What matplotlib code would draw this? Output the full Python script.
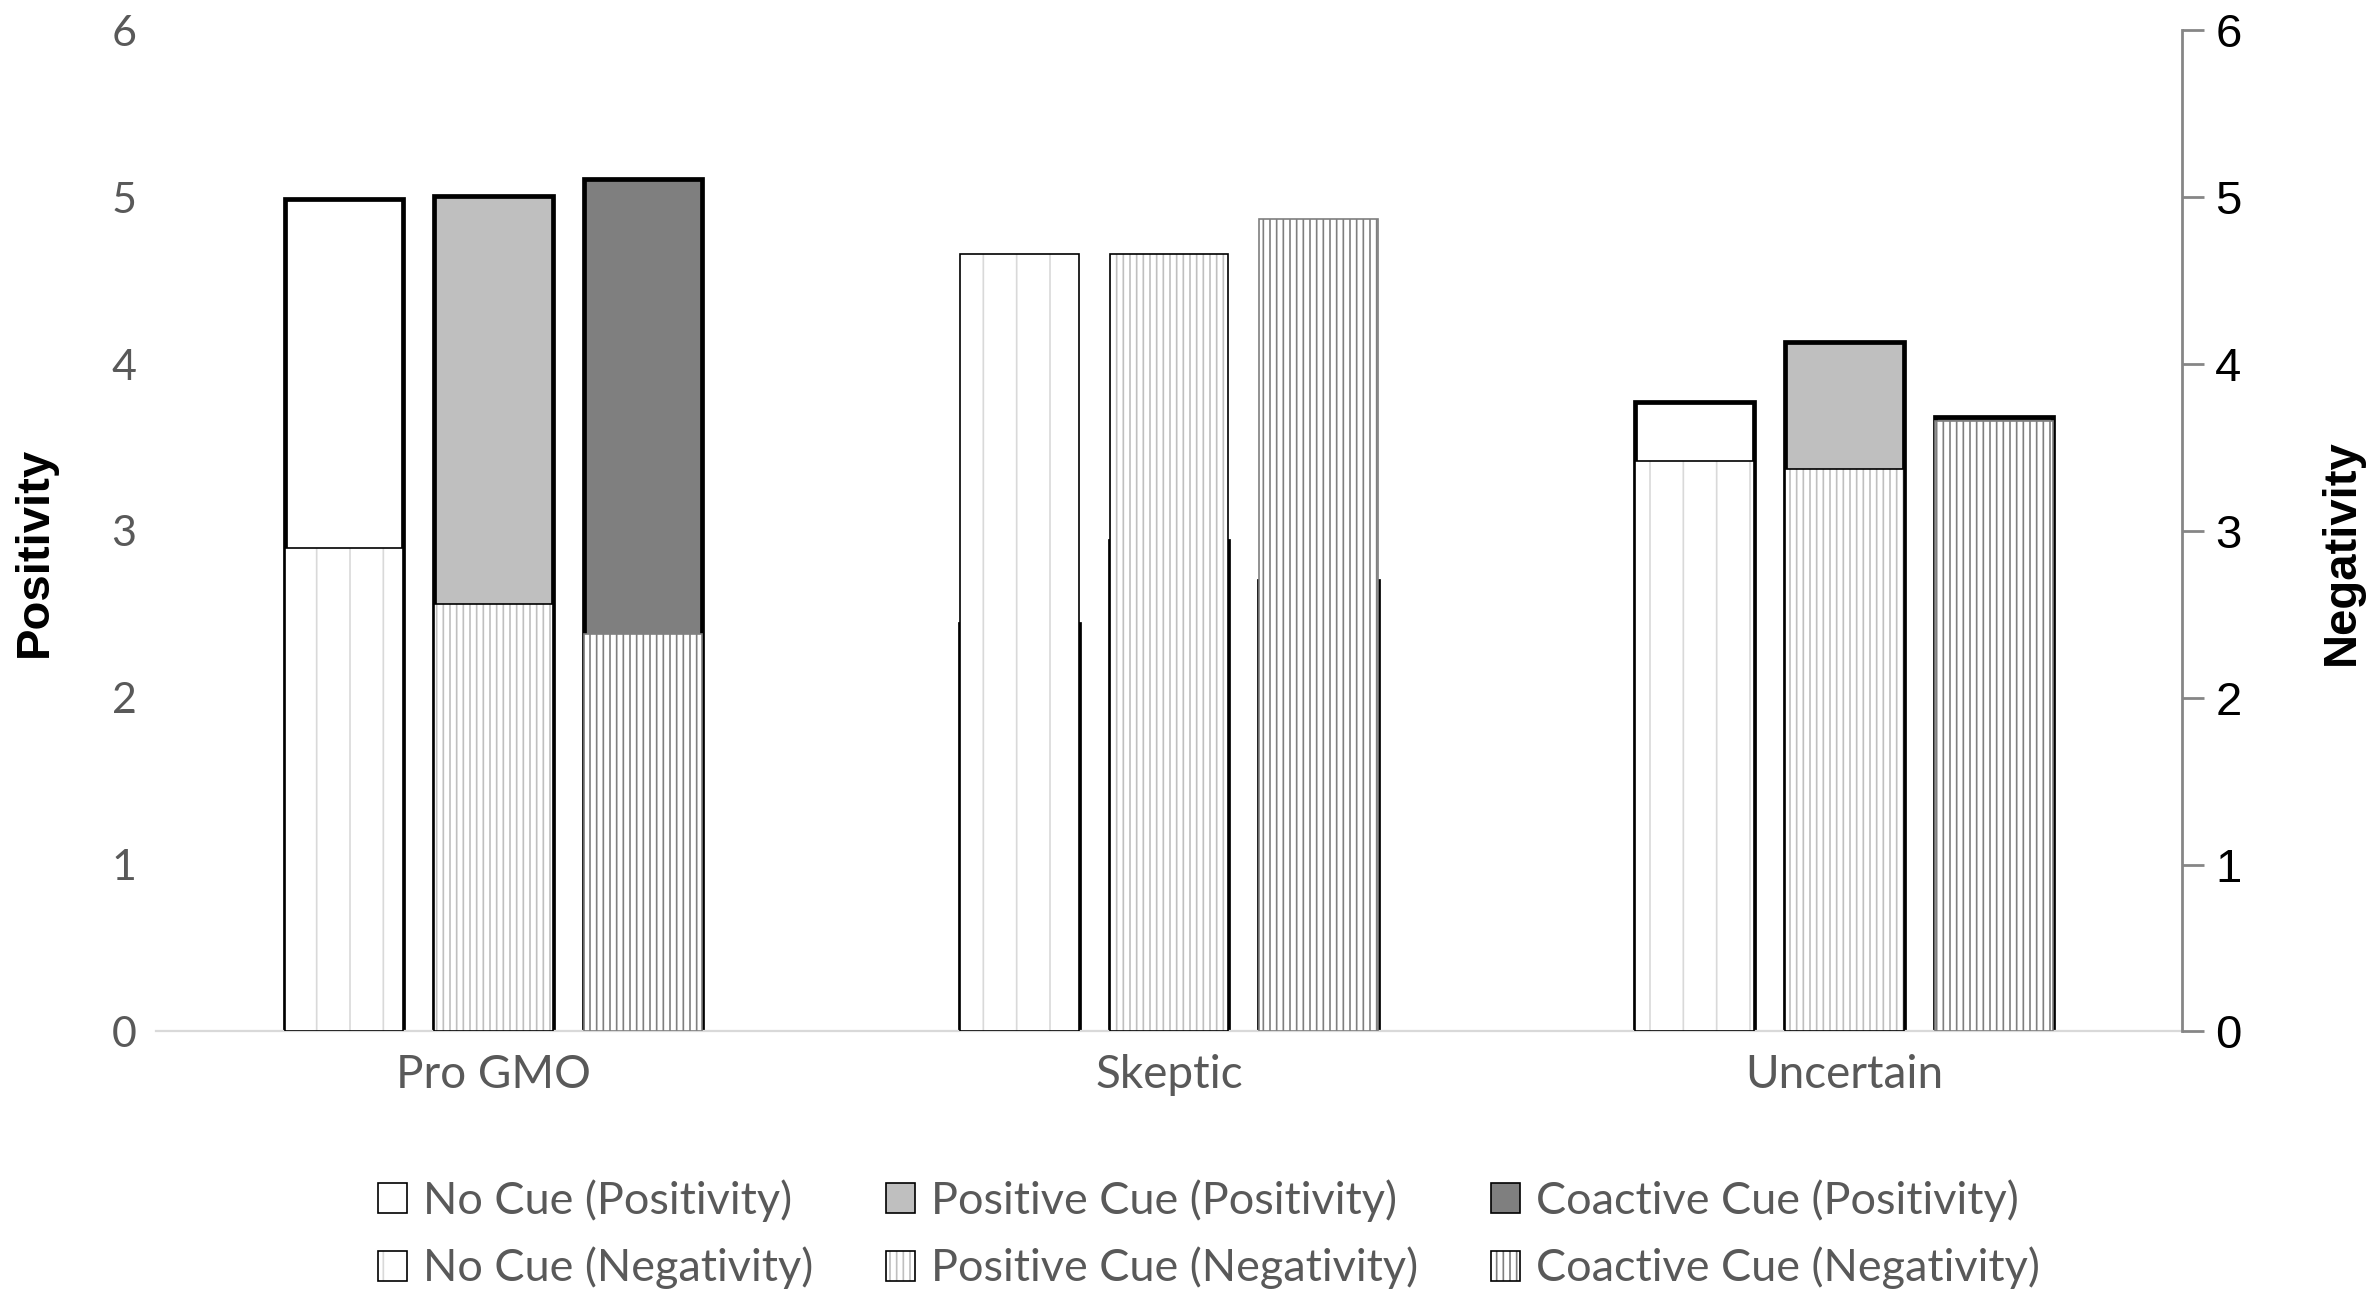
import numpy as np
import matplotlib
matplotlib.use("Agg")
import matplotlib.pyplot as plt
from matplotlib.patches import Patch

# --------------------------------------------------
# Data
# --------------------------------------------------
groups = ["Pro GMO", "Skeptic", "Uncertain"]
cues = ["No Cue", "Positive Cue", "Coactive Cue"]

positivity = {
    "No Cue": [4.99, 2.44, 3.77],
    "Positive Cue": [5.01, 2.94, 4.13],
    "Coactive Cue": [5.11, 2.70, 3.68],
}
negativity = {
    "No Cue": [2.90, 4.66, 3.42],
    "Positive Cue": [2.56, 4.66, 3.37],
    "Coactive Cue": [2.38, 4.87, 3.66],
}

y_ticks = [0, 1, 2, 3, 4, 5, 6]

# --------------------------------------------------
# Styles
# --------------------------------------------------
pos_fill = {"No Cue": "white", "Positive Cue": "#bfbfbf", "Coactive Cue": "#7f7f7f"}
neg_hatch = {"No Cue": "|", "Positive Cue": "|||||", "Coactive Cue": "|||||"}
neg_hatch_color = {"No Cue": "#d9d9d9", "Positive Cue": "#bfbfbf", "Coactive Cue": "#7f7f7f"}
neg_edge = {"No Cue": "black", "Positive Cue": "black", "Coactive Cue": "#7f7f7f"}

plt.rcParams["font.family"] = ["Lato", "DejaVu Sans"]
plt.rcParams["hatch.linewidth"] = 0.6

fig = plt.figure(figsize=(11.9, 6.51), dpi=200)
ax = fig.add_axes([0.0655, 0.2079, 0.9168 - 0.0655, 0.9766 - 0.2079])
ax2 = ax.twinx()

x = np.arange(len(groups))
width = 0.1754
offsets = [-0.2215, 0.0, 0.2215]

# positivity bars (thick black outline)
for cue, off in zip(cues, offsets):
    ax.bar(x + off, positivity[cue], width, color=pos_fill[cue],
           edgecolor="black", linewidth=1.7, zorder=2)

# negativity bars (hatched, drawn on top through the twin axis)
for cue, off in zip(cues, offsets):
    ax2.bar(x + off, negativity[cue], width, color="white",
            edgecolor=neg_hatch_color[cue], hatch=neg_hatch[cue],
            linewidth=0, zorder=2)
    ax2.bar(x + off, negativity[cue], width, fill=False,
            edgecolor=neg_edge[cue], linewidth=0.6, zorder=3)

for a in (ax, ax2):
    a.set_xlim(-0.5, 2.5)
    a.set_ylim(0, 6)
    a.set_yticks(y_ticks)
    for s in ("top", "left", "right", "bottom"):
        a.spines[s].set_visible(False)

ax.spines["bottom"].set_visible(True)
ax.spines["bottom"].set_color("#d9d9d9")
ax.spines["bottom"].set_linewidth(0.8)
ax.set_xticks(x)
ax.set_xticklabels(groups, fontsize=16.5, color="#595959")
ax.tick_params(axis="x", length=0, pad=8)
ax.tick_params(axis="y", length=0, pad=7, labelsize=15.5, labelcolor="#595959")

ax2.spines["right"].set_visible(True)
ax2.spines["right"].set_color("#868686")
ax2.spines["right"].set_linewidth(1.0)
ax2.tick_params(axis="y", direction="out", length=8, width=1.0, color="#868686",
                pad=4, labelsize=17)
for lbl in ax2.get_yticklabels():
    lbl.set_fontfamily(["Liberation Sans", "DejaVu Sans"])

ax.set_ylabel("Positivity", fontsize=17, fontweight="bold",
              family=["Liberation Sans", "DejaVu Sans"])
ax.yaxis.set_label_coords(-0.049, 0.479)
ax2.set_ylabel("Negativity", fontsize=17, fontweight="bold",
               family=["Liberation Sans", "DejaVu Sans"])
ax2.yaxis.set_label_coords(1.068, 0.479)

# --------------------------------------------------
# Legend (2 rows x 3 columns)
# --------------------------------------------------
handles = []
labels = []
for cue in cues:
    handles.append(Patch(facecolor=pos_fill[cue], edgecolor="black", linewidth=0.6))
    labels.append(f"{cue} (Positivity)")
    handles.append((Patch(facecolor="white", edgecolor=neg_hatch_color[cue],
                          hatch=neg_hatch[cue], linewidth=0),
                    Patch(fill=False, edgecolor="black", linewidth=0.6)))
    labels.append(f"{cue} (Negativity)")

leg = fig.legend(handles, labels, ncol=3, loc="center",
                 bbox_to_anchor=(0.508, 0.052), frameon=False,
                 fontsize=16.2, handlelength=0.65, handleheight=0.65,
                 handletextpad=0.35, columnspacing=1.62, labelspacing=0.55)
for t in leg.get_texts():
    t.set_color("#595959")

fig.savefig("out.png", dpi=200)
